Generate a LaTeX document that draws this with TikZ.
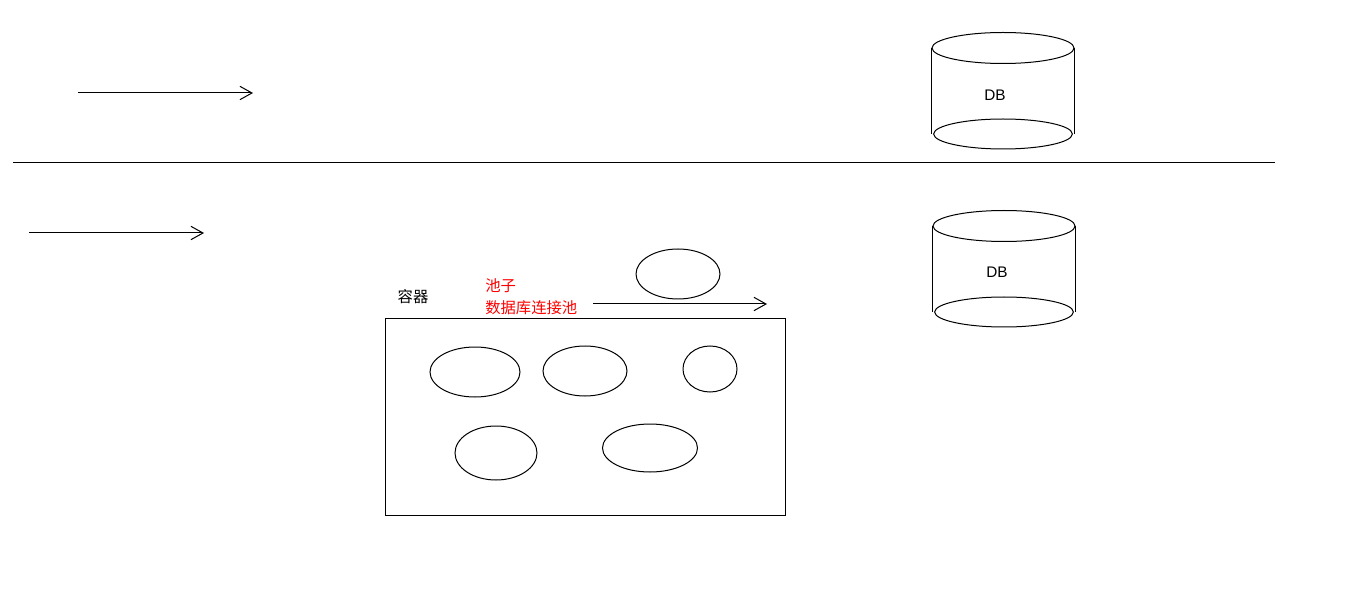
\documentclass[tikz,border=0pt]{standalone}
\usepackage{fontspec}
\setmainfont{Liberation Sans}
\newfontfamily\cjk{Noto Sans CJK SC}
\usetikzlibrary{arrows.meta}
\usetikzlibrary{shapes.geometric}
\tikzstyle{stroke}=[line width=.75pt]
\tikzstyle{flow}=[stroke,-{Straight Barb[length=9pt,width=10pt]}]
\tikzstyle{disc}=[draw,stroke,ellipse,inner sep=0pt]
\tikzstyle{lid}=[disc,minimum width=106.5pt,minimum height=23.25pt]
\tikzstyle{base}=[disc,minimum width=104pt,minimum height=22.5pt]
\tikzstyle{word}=[inner sep=0pt,font=\fontsize{11.5pt}{15pt}\selectfont]
\tikzstyle{cjkword}=[word,font=\cjk\fontsize{11.5pt}{15pt}\selectfont]
\newcommand\dbstack[3]{%
  \node[lid]  (#1-top) at (#2,#3) {};
  \node[base] (#1-bot) at (#2,#3+86) {};
  \draw[stroke] (#1-top.west) -- (#1-top.west |- #1-bot.center);
  \draw[stroke] (#1-top.east) -- (#1-top.east |- #1-bot.center);
}
\begin{document}
\begin{tikzpicture}[x=.75pt,y=-.75pt]
	\useasboundingbox (0,0) rectangle (1360,602);
	% top half
	\coordinate (a1s) at (78,93);
	\coordinate (a1e) at (253,93);
	\draw[flow] (a1s) -- (a1e);
	\dbstack{db1}{1003}{48}
	\node[word] (db1-lbl) at (995,95) {DB};
	% divider
	\coordinate (divl) at (13,163);
	\coordinate (divr) at (1275,163);
	\draw[stroke] (divl) -- (divr);
	% bottom half
	\coordinate (a2s) at (29,233);
	\coordinate (a2e) at (204,233);
	\draw[flow] (a2s) -- (a2e);
	\dbstack{db2}{1004}{226}
	\node[word] (db2-lbl) at (997,272) {DB};
	\node[draw,stroke,minimum width=300pt,minimum height=147pt,inner sep=0pt] (pool) at (585,417) {};
	\node[cjkword] (cname) at (413,297) {容器};
	\node[cjkword,red,anchor=west] (pname) at (485,286) {池子};
	\node[cjkword,red,anchor=west] (pfull) at (485,308) {数据库连接池};
	\node[disc,minimum width=63pt,minimum height=37.5pt] (cfree) at (678,274) {};
	\coordinate (a3s) at (593,304);
	\coordinate (a3e) at (767,304);
	\draw[flow] (a3s) -- (a3e);
	% connections in the pool
	\node[disc,minimum width=67.5pt,minimum height=37.5pt] (c1) at (475,372) {};
	\node[disc,minimum width=63pt,minimum height=37.5pt]   (c2) at (585,371) {};
	\node[disc,minimum width=40.5pt,minimum height=34.5pt] (c3) at (710,369) {};
	\node[disc,minimum width=61.5pt,minimum height=40.5pt] (c4) at (496,453) {};
	\node[disc,minimum width=71.25pt,minimum height=36pt]  (c5) at (650,448) {};
\end{tikzpicture}
\end{document}
